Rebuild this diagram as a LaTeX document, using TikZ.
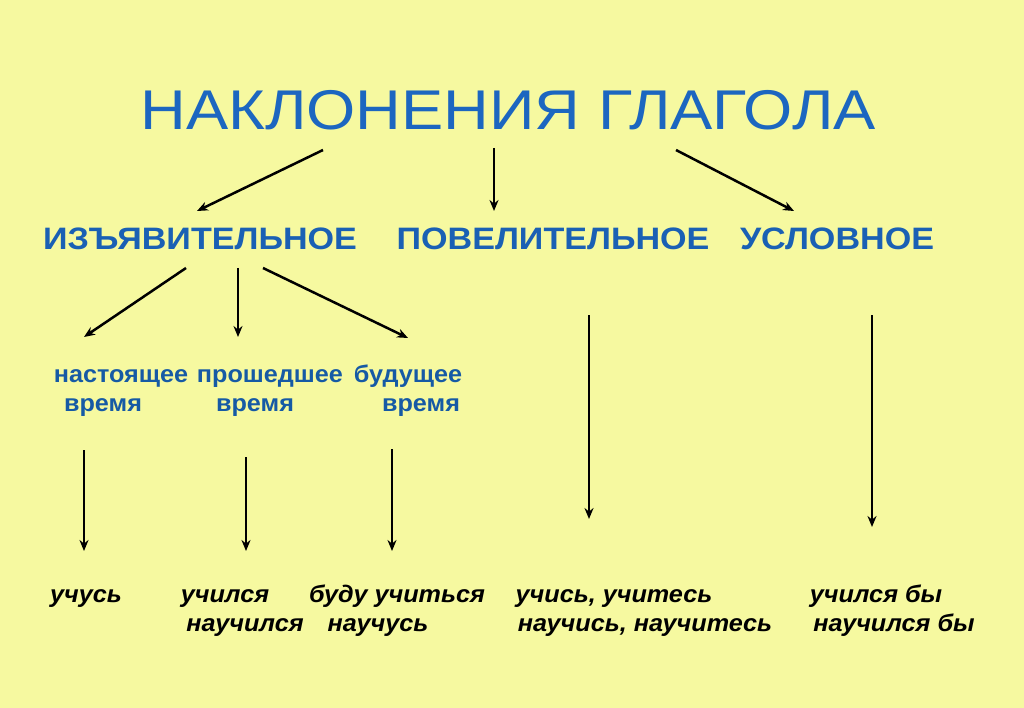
\documentclass[tikz,border=0pt]{standalone}
\usepackage{fontspec}
\setmainfont{Liberation Sans}
\newfontfamily\titlefont[FakeStretch=1.13]{Liberation Sans}
\newfontfamily\lvlfont[FakeStretch=1.1]{Liberation Sans}
\newfontfamily\smallfont[FakeStretch=1.05]{Liberation Sans}
\usetikzlibrary{arrows.meta}
\definecolor{bg}{RGB}{246,249,160}
\definecolor{tblue}{RGB}{28,102,192}
\definecolor{mblue}{RGB}{26,96,180}
\definecolor{sblue}{RGB}{22,90,165}
\tikzset{
  lvlone/.style={font=\lvlfont\fontsize{31}{34}\selectfont\bfseries, text=mblue, inner sep=0pt, anchor=base},
  tense/.style={font=\smallfont\fontsize{24}{27}\selectfont\bfseries, text=sblue, inner sep=0pt, anchor=base},
  example/.style={font=\smallfont\fontsize{24}{27}\selectfont\bfseries\itshape, text=black, inner sep=0pt, anchor=base},
  conn/.style={line width=2.5pt, -{Stealth[length=11pt,width=9pt]}},
}
\begin{document}
\begin{tikzpicture}[x=1pt,y=-1pt]
\fill[bg] (0,0) rectangle (1024,708);
\useasboundingbox (0,0) rectangle (1024,708);

\node[font=\titlefont\fontsize{56}{60}\selectfont, text=tblue, inner sep=0pt, anchor=base] (title) at (508,130) {НАКЛОНЕНИЯ ГЛАГОЛА};

\node[lvlone] (izj) at (200,250) {ИЗЪЯВИТЕЛЬНОЕ};
\node[lvlone] (pov) at (553,250) {ПОВЕЛИТЕЛЬНОЕ};
\node[lvlone] (usl) at (837,250) {УСЛОВНОЕ};

\node[tense] (nast) at (121,382) {настоящее};
\node[tense] (nastv) at (103,411) {время};
\node[tense] (prosh) at (270,382) {прошедшее};
\node[tense] (proshv) at (255,411) {время};
\node[tense] (bud) at (408,382) {будущее};
\node[tense] (budv) at (421,411) {время};

\node[example] (e1) at (86,602) {учусь};
\node[example] (e2a) at (225,602) {учился};
\node[example] (e2b) at (245,631) {научился};
\node[example] (e3a) at (397,602) {буду учиться};
\node[example] (e3b) at (378,631) {научусь};
\node[example] (e4a) at (614,602) {учись, учитесь};
\node[example] (e4b) at (645,631) {научись, научитесь};
\node[example] (e5a) at (876,602) {учился бы};
\node[example] (e5b) at (894,631) {научился бы};

% connector endpoints
\coordinate (t1) at (323,150); \coordinate (izjt) at (197,211);
\coordinate (t2) at (494,148); \coordinate (povt) at (494,211);
\coordinate (t3) at (676,150); \coordinate (uslt) at (794,211);
\coordinate (i1) at (186,268); \coordinate (nastt) at (84,337);
\coordinate (i2) at (238,268); \coordinate (prosht) at (238,337);
\coordinate (i3) at (263,268); \coordinate (budt) at (408,338);
\coordinate (v1) at (84,450); \coordinate (e1t) at (84,551);
\coordinate (v2) at (246,457); \coordinate (e2t) at (246,551);
\coordinate (v3) at (392,449); \coordinate (e3t) at (392,551);
\coordinate (v4) at (589,315); \coordinate (e4t) at (589,519);
\coordinate (v5) at (872,315); \coordinate (e5t) at (872,527);

\draw[conn] (t1) -- (izjt);
\draw[conn] (t2) -- (povt);
\draw[conn] (t3) -- (uslt);
\draw[conn] (i1) -- (nastt);
\draw[conn] (i2) -- (prosht);
\draw[conn] (i3) -- (budt);
\draw[conn] (v1) -- (e1t);
\draw[conn] (v2) -- (e2t);
\draw[conn] (v3) -- (e3t);
\draw[conn] (v4) -- (e4t);
\draw[conn] (v5) -- (e5t);
\end{tikzpicture}
\end{document}
